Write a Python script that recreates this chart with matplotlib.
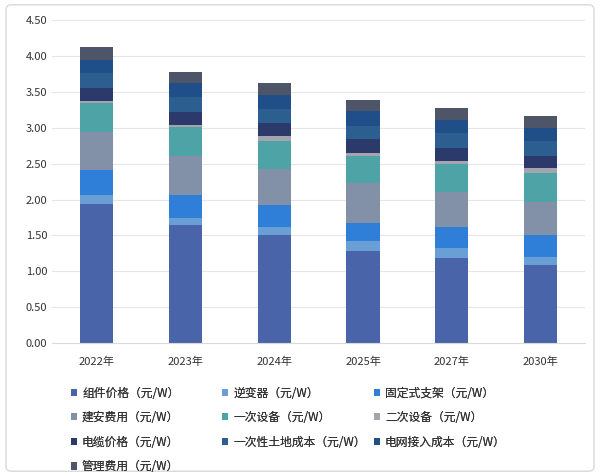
import numpy as np
import matplotlib
matplotlib.use('Agg')
import matplotlib.pyplot as plt
from matplotlib.patches import Patch, FancyBboxPatch

plt.rcParams['font.family'] = ['Noto Sans CJK SC', 'DejaVu Sans']

years = ['2022年', '2023年', '2024年', '2025年', '2027年', '2030年']

# cost items (元/W), bottom to top
zujian = [1.94, 1.64, 1.50, 1.29, 1.19, 1.09]
nibianqi = [0.13, 0.11, 0.12, 0.13, 0.13, 0.11]
zhijia = [0.34, 0.31, 0.30, 0.26, 0.30, 0.31]
jianan = [0.53, 0.55, 0.51, 0.55, 0.49, 0.46]
yici = [0.40, 0.40, 0.39, 0.37, 0.39, 0.40]
erci = [0.03, 0.03, 0.07, 0.05, 0.04, 0.07]
dianlan = [0.19, 0.18, 0.18, 0.19, 0.18, 0.17]
tudi = [0.20, 0.21, 0.19, 0.18, 0.21, 0.20]
dianwang = [0.18, 0.19, 0.19, 0.21, 0.18, 0.19]
guanli = [0.19, 0.15, 0.17, 0.15, 0.17, 0.17]

labels = ['组件价格（元/W）', '逆变器（元/W）', '固定式支架（元/W）',
          '建安费用（元/W）', '一次设备（元/W）', '二次设备（元/W）',
          '电缆价格（元/W）', '一次性土地成本（元/W）', '电网接入成本（元/W）',
          '管理费用（元/W）']
colors = ['#4a64a9', '#6a9fd6', '#2f7fd8', '#8290a8', '#4ea3a6',
          '#a3a4ad', '#2b3a6b', '#2c5f8f', '#1f4e88', '#4e5569']

series = [zujian, nibianqi, zhijia, jianan, yici, erci,
          dianlan, tudi, dianwang, guanli]

fig = plt.figure(figsize=(6, 4.76), dpi=100)
ax = fig.add_axes([0.087, 0.279, 0.888, 0.679])

# light frame around the chart
frame = FancyBboxPatch((0.01, 0.01), 0.98, 0.98, boxstyle='round,pad=0,rounding_size=0.01',
                       transform=fig.transFigure, fill=False, edgecolor='#d9d9d9', lw=1)
fig.patches.append(frame)

x = np.arange(len(years))
bottom = np.zeros(len(years))
handles = []
for vals, lab, c in zip(series, labels, colors):
    ax.bar(x, vals, 0.375, bottom=bottom, color=c, label=lab)
    bottom += np.array(vals)
    handles.append(Patch(facecolor=c, label=lab))

ax.set_xlim(-0.5, len(years) - 0.5)
ax.set_ylim(0, 4.5)
ax.set_yticks(np.arange(0, 4.51, 0.5))
ax.set_yticklabels([f'{v:.2f}' for v in np.arange(0, 4.51, 0.5)])
ax.set_xticks(x)
ax.set_xticklabels(years)
ax.tick_params(length=0, labelsize=8, colors='#333333')
ax.tick_params(axis='x', pad=10)
ax.grid(axis='y', color='#e6e6e6', lw=0.8)
ax.set_axisbelow(True)
for s in ['top', 'right', 'left']:
    ax.spines[s].set_visible(False)
ax.spines['bottom'].set_color('#d9d9d9')

# legend: three fixed-width columns
cols = [[0, 3, 6, 9], [1, 4, 7], [2, 5, 8]]
xs = [0.118, 0.370, 0.623]
for idx, xpos in zip(cols, xs):
    leg = fig.legend(handles=[handles[i] for i in idx], loc='upper left',
                     bbox_to_anchor=(xpos, 0.188), frameon=False,
                     fontsize=8.5, handlelength=0.55, handleheight=0.55,
                     handletextpad=0.4, labelspacing=0.98, borderaxespad=0,
                     borderpad=0)
    for t in leg.get_texts():
        t.set_color('#333333')
    fig.add_artist(leg)

fig.savefig('out.png', dpi=100)
